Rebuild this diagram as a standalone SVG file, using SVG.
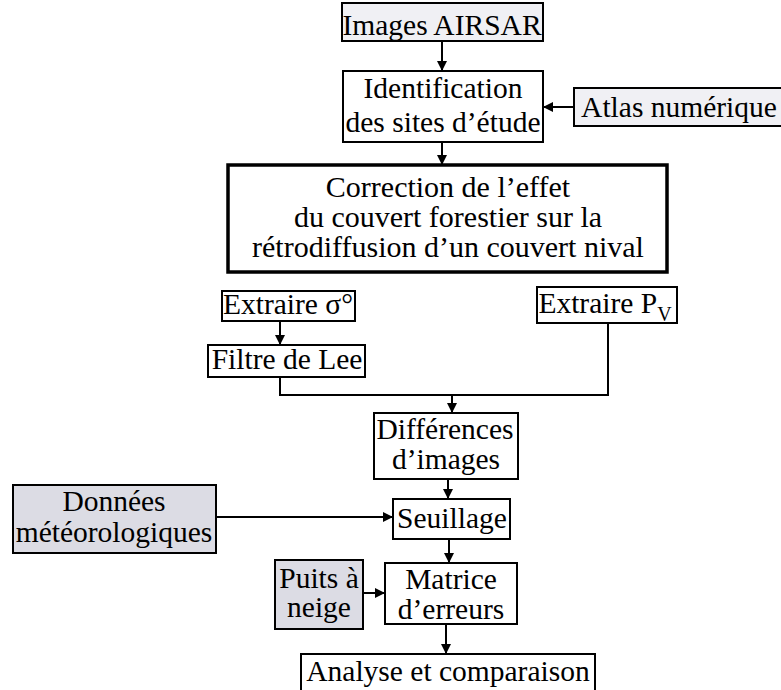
<svg xmlns="http://www.w3.org/2000/svg" width="781" height="690" viewBox="0 0 781 690">
<style>
.box{fill:#fff;stroke:#000;stroke-width:2}
.gray{fill:#dcdce4;stroke:#000;stroke-width:2}
.light{fill:#f0f0f4;stroke:#000;stroke-width:2}
.thick{fill:#fff;stroke:#000;stroke-width:3.5}
text{font-family:"Liberation Serif","Times New Roman",serif;font-size:29.5px;fill:#000;text-anchor:middle}
.big{font-size:30px}
.con{fill:none;stroke:#000;stroke-width:2}
</style>
<defs>
<marker id="ah" viewBox="0 0 10 10" refX="10" refY="5" markerWidth="5" markerHeight="5" orient="auto" markerUnits="strokeWidth">
<path d="M0,0 L10,5 L0,10 z" fill="#000"/>
</marker>
</defs>
<rect width="781" height="690" fill="#fff"/>
<g id="connectors">
<line class="con" x1="442" y1="41" x2="442" y2="71" marker-end="url(#ah)"/>
<line class="con" x1="574" y1="107" x2="543" y2="107" marker-end="url(#ah)"/>
<line class="con" x1="442" y1="142" x2="442" y2="165" marker-end="url(#ah)"/>
<line class="con" x1="280" y1="321" x2="280" y2="345" marker-end="url(#ah)"/>
<polyline class="con" points="280,377 280,395 608,395 608,323"/>
<line class="con" x1="452" y1="395" x2="452" y2="413" marker-end="url(#ah)"/>
<line class="con" x1="448" y1="479" x2="448" y2="499" marker-end="url(#ah)"/>
<line class="con" x1="216" y1="517" x2="393" y2="517" marker-end="url(#ah)"/>
<line class="con" x1="449" y1="539" x2="449" y2="563" marker-end="url(#ah)"/>
<line class="con" x1="363" y1="593" x2="385" y2="593" marker-end="url(#ah)"/>
<line class="con" x1="446" y1="624" x2="446" y2="654" marker-end="url(#ah)"/>
</g>
<g id="images-airsar">
<rect class="light" x="342" y="3" width="201" height="38"/>
<text x="442" y="35">Images AIRSAR</text>
</g>
<g id="identification">
<rect class="box" x="343" y="71" width="200" height="71"/>
<text x="443" y="98">Identification</text>
<text x="443" y="132">des sites d’étude</text>
</g>
<g id="atlas">
<rect class="light" x="574" y="88" width="215" height="38"/>
<text x="679" y="117">Atlas numérique</text>
</g>
<g id="correction">
<rect class="thick" x="228" y="165" width="439" height="107"/>
<text class="big" x="448" y="197">Correction de l’effet</text>
<text class="big" x="448" y="227">du couvert forestier sur la</text>
<text class="big" x="448" y="257">rétrodiffusion d’un couvert nival</text>
</g>
<g id="extraire-sigma">
<rect class="box" x="222" y="291" width="133" height="30"/>
<text x="288" y="314">Extraire σ°</text>
</g>
<g id="filtre-lee">
<rect class="box" x="208" y="345" width="157" height="32"/>
<text x="287" y="369">Filtre de Lee</text>
</g>
<g id="extraire-pv">
<rect class="box" x="537" y="287" width="140" height="36"/>
<text x="605" y="313">Extraire P<tspan font-size="20" dy="8">V</tspan></text>
</g>
<g id="differences">
<rect class="box" x="374" y="413" width="144" height="66"/>
<text x="445" y="439">Différences</text>
<text x="446" y="469">d’images</text>
</g>
<g id="donnees">
<rect class="gray" x="13" y="485" width="203" height="68"/>
<text x="114" y="511">Données</text>
<text x="114" y="542">météorologiques</text>
</g>
<g id="seuillage">
<rect class="box" x="393" y="499" width="117" height="40"/>
<text x="452" y="528">Seuillage</text>
</g>
<g id="puits">
<rect class="gray" x="275" y="560" width="88" height="69"/>
<text x="319" y="588">Puits à</text>
<text x="319" y="617">neige</text>
</g>
<g id="matrice">
<rect class="box" x="385" y="563" width="132" height="61"/>
<text x="451" y="589">Matrice</text>
<text x="451" y="619">d’erreurs</text>
</g>
<g id="analyse">
<rect class="box" x="301" y="654" width="294" height="50"/>
<text x="448" y="681">Analyse et comparaison</text>
</g>
</svg>
